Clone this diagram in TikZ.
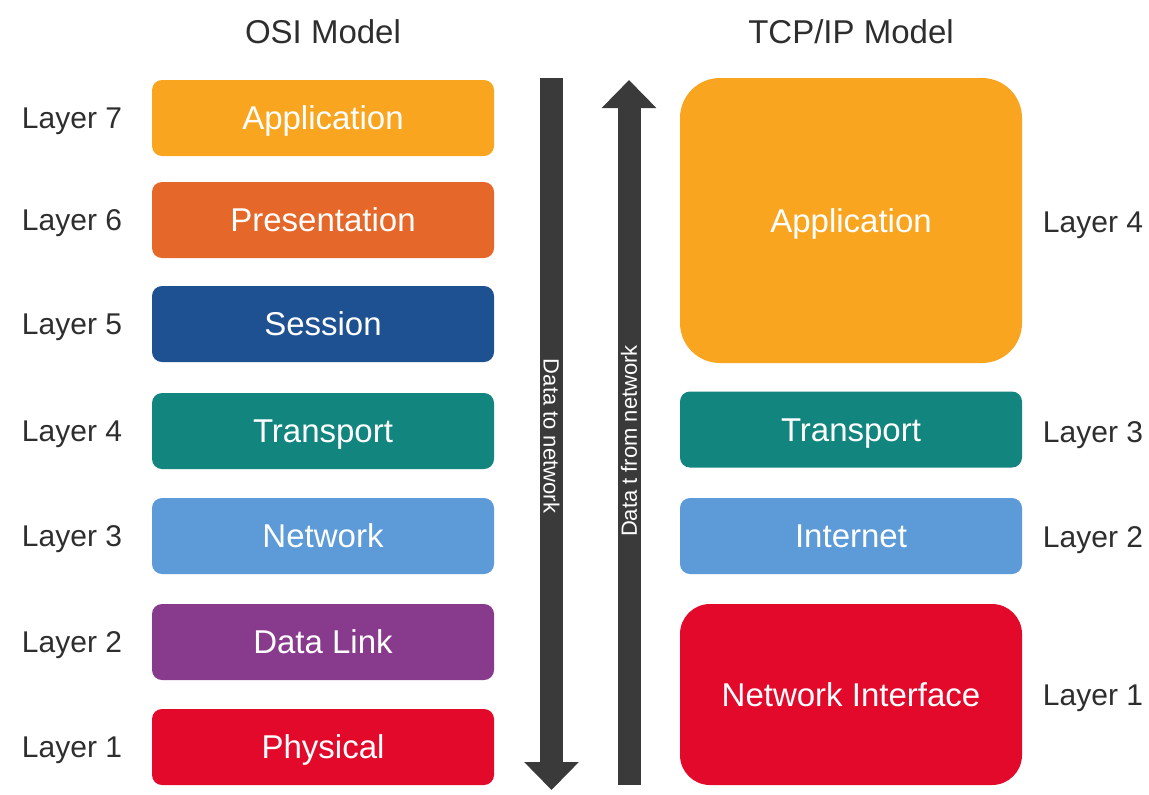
\documentclass[tikz,border=0pt]{standalone}
\usepackage{fontspec}
\setmainfont{Liberation Sans}
\usetikzlibrary{arrows.meta}

\definecolor{appcol}{HTML}{F9A51F}
\definecolor{prescol}{HTML}{E5682A}
\definecolor{sesscol}{HTML}{1E5192}
\definecolor{transcol}{HTML}{12857F}
\definecolor{netcol}{HTML}{5C9AD8}
\definecolor{linkcol}{HTML}{883B8C}
\definecolor{physcol}{HTML}{E3092B}
\definecolor{arrowcol}{HTML}{3A3A3A}
\definecolor{labelcol}{HTML}{2E2E2E}

\begin{document}
\begin{tikzpicture}[x=0.5pt,y=-0.5pt,
  box/.style={rounded corners=5pt,minimum width=171pt,minimum height=38pt,
    inner sep=0pt,text height=11.8pt,text depth=0pt,text=white,
    font=\fontsize{16.5}{18}\selectfont},
  tag/.style={text=labelcol,text height=10.7pt,text depth=0pt,
    font=\fontsize{15}{17}\selectfont},
  title/.style={text=labelcol,font=\fontsize{16.5}{19}\selectfont},
  flow/.style={draw=arrowcol,line width=11.5pt,
    -{Triangle[length=14pt,width=26.5pt]}},
  flowtext/.style={text=white,font=\fontsize{11}{12}\selectfont}]
  \useasboundingbox (0,0) rectangle (1149,794);

  % titles
  \node[title] (osi-title) at (323,32) {OSI Model};
  \node[title] (tcp-title) at (851,32) {TCP/IP Model};

  % OSI stack, top to bottom
  \foreach \y/\n/\txt/\col in {118/7/Application/appcol,
      220/6/Presentation/prescol,324/5/Session/sesscol,
      431/4/Transport/transcol,536/3/Network/netcol,
      642/2/Data Link/linkcol,747/1/Physical/physcol}{%
    \node[box,fill=\col] (osi-\n) at (323,\y) {\txt};
    \node[tag] (osi-lbl-\n) at (72,\y) {Layer \n};
  }

  % TCP/IP stack
  \node[box,fill=appcol,minimum height=142.5pt,rounded corners=20pt]
    (tcp-4) at (851,220.5) {Application};
  \node[box,fill=transcol] (tcp-3) at (851,429.5) {Transport};
  \node[box,fill=netcol] (tcp-2) at (851,536) {Internet};
  \node[box,fill=physcol,minimum height=90.5pt,rounded corners=15pt]
    (tcp-1) at (851,694.5) {Network Interface};
  \node[tag] (tcp-lbl-4) at (1093,222) {Layer 4};
  \node[tag] (tcp-lbl-3) at (1093,432) {Layer 3};
  \node[tag] (tcp-lbl-2) at (1093,537) {Layer 2};
  \node[tag] (tcp-lbl-1) at (1093,695) {Layer 1};

  % data flow arrows
  \coordinate (down-top) at (551.5,78);
  \coordinate (down-tip) at (551.5,790);
  \coordinate (up-foot) at (629,785);
  \coordinate (up-tip) at (629,80);
  \draw[flow] (down-top) -- (down-tip);
  \draw[flow] (up-foot) -- (up-tip);
  \node[flowtext,rotate=-90] (down-txt) at (551.5,436) {Data to network};
  \node[flowtext,rotate=90] (up-txt) at (629,441) {Data t from network};
\end{tikzpicture}
\end{document}
